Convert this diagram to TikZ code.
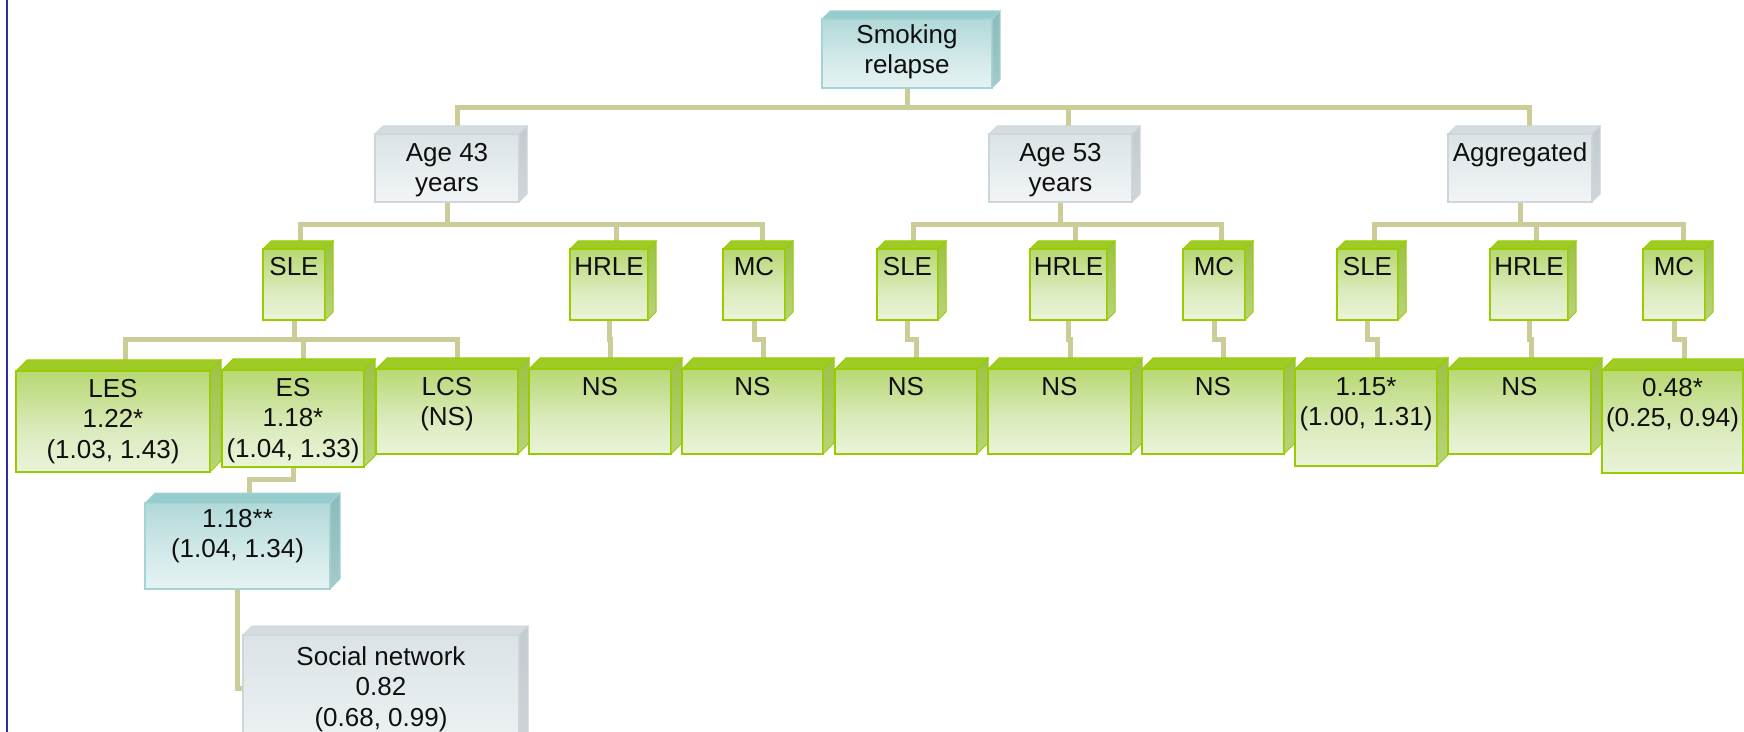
\documentclass[tikz,border=0pt]{standalone}
\usepackage{fontspec}
\setmainfont{Liberation Sans}
\usetikzlibrary{calc,backgrounds}

% palette
\definecolor{connc}{RGB}{204,204,153}
\definecolor{navy}{RGB}{45,45,165}
\definecolor{inkc}{RGB}{15,15,15}
% green boxes
\definecolor{gborder}{RGB}{153,204,0}
\definecolor{gtopc}{RGB}{158,204,36}
\definecolor{gfa}{RGB}{152,200,50}
\definecolor{gfb}{RGB}{220,235,190}
\definecolor{gfc}{RGB}{252,253,250}
\definecolor{gsa}{RGB}{138,186,40}
\definecolor{gsb}{RGB}{202,220,150}
% cyan boxes
\definecolor{cborder}{RGB}{165,212,212}
\definecolor{ctopc}{RGB}{150,204,204}
\definecolor{cfa}{RGB}{148,202,202}
\definecolor{cfb}{RGB}{212,234,234}
\definecolor{cfc}{RGB}{252,254,254}
\definecolor{csa}{RGB}{125,180,180}
\definecolor{csb}{RGB}{178,208,208}
% grey boxes
\definecolor{sborder}{RGB}{205,214,218}
\definecolor{stopc}{RGB}{212,220,224}
\definecolor{sfa}{RGB}{208,218,222}
\definecolor{sfb}{RGB}{232,238,240}
\definecolor{sfc}{RGB}{253,253,253}
\definecolor{ssa}{RGB}{186,198,203}
\definecolor{ssb}{RGB}{214,220,223}

\pgfdeclareverticalshading{gfront}{100bp}{color(0bp)=(gfc); color(45bp)=(gfb); color(100bp)=(gfa)}
\pgfdeclareverticalshading{gside}{100bp}{color(0bp)=(gsb); color(100bp)=(gsa)}
\pgfdeclareverticalshading{cfront}{100bp}{color(0bp)=(cfc); color(45bp)=(cfb); color(100bp)=(cfa)}
\pgfdeclareverticalshading{cside}{100bp}{color(0bp)=(csb); color(100bp)=(csa)}
\pgfdeclareverticalshading{sfront}{100bp}{color(0bp)=(sfc); color(45bp)=(sfb); color(100bp)=(sfa)}
\pgfdeclareverticalshading{sside}{100bp}{color(0bp)=(ssb); color(100bp)=(ssa)}

\tikzset{
  basebox/.style={inner sep=0pt, outer sep=0pt, anchor=north west, line width=0.75pt},
  gbox/.style={basebox, draw=gborder, shading=gfront},
  gtop/.style={fill=gtopc, draw=gborder, line width=0.5pt},
  gside/.style={shading=gside, draw=gborder, line width=0.5pt},
  cbox/.style={basebox, draw=cborder, shading=cfront},
  ctop/.style={fill=ctopc, draw=cborder, line width=0.5pt},
  cside/.style={shading=cside, draw=cborder, line width=0.5pt},
  sbox/.style={basebox, draw=sborder, shading=sfront},
  stop/.style={fill=stopc, draw=sborder, line width=0.5pt},
  sside/.style={shading=sside, draw=sborder, line width=0.5pt},
  txt/.style={anchor=north, align=center, inner sep=0pt, text=inkc,
              font=\fontsize{13}{15.25}\selectfont},
  conn/.style={draw=connc, line width=2.5pt},
  edgeline/.style={draw=navy, line width=0.8pt}
}

% first-line strut: fixes the top of every label 20 units above its first baseline
\newcommand\fstrut{\rule{0pt}{10pt}}

% #1 colour family, #2 name, #3 left, #4 top, #5 right, #6 bottom, #7 depth
\newcommand\cubebox[7]{%
  \node[#1box, minimum width={(#5-#3)*0.5pt}, minimum height={(#6-#4)*0.5pt}] (#2) at (#3,#4) {};
  \path[#1top] (#2.north west) -- ++(#7,-#7) -- ($(#2.north east)+(#7,-#7)$) -- (#2.north east) -- cycle;
  \path[#1side] (#2.north east) -- ++(#7,-#7) -- ($(#2.south east)+(#7,-#7)$) -- (#2.south east) -- cycle;
}

\begin{document}
\begin{tikzpicture}[x=0.5pt,y=-0.5pt]
\useasboundingbox (0,0) rectangle (1744,732);
\clip (0,0) rectangle (1744,732);

% root
\cubebox{c}{top}{822}{19}{992}{88}{8}
% periods
\cubebox{s}{age43}{375}{134}{519}{202}{8}
\cubebox{s}{age53}{989}{134}{1132}{202}{8}
\cubebox{s}{agg}{1448}{134}{1592}{202}{8}
% measures
\cubebox{g}{sle43}{263}{249}{325}{320}{8}
\cubebox{g}{hrle43}{570}{249}{648}{320}{8}
\cubebox{g}{mc43}{723}{249}{785}{320}{8}
\cubebox{g}{sle53}{877}{249}{938}{320}{8}
\cubebox{g}{hrle53}{1030}{249}{1107}{320}{8}
\cubebox{g}{mc53}{1183}{249}{1245}{320}{8}
\cubebox{g}{sleA}{1337}{249}{1398}{320}{8}
\cubebox{g}{hrleA}{1490}{249}{1568}{320}{8}
\cubebox{g}{mcA}{1643}{249}{1705}{320}{8}
% results
\cubebox{g}{les}{16}{371}{210}{472}{11}
\cubebox{g}{es}{222}{370}{364}{467}{11}
\cubebox{g}{lcs}{376}{369}{518}{454}{11}
\cubebox{g}{ns1}{529}{369}{671}{454}{11}
\cubebox{g}{ns2}{682}{369}{823}{454}{11}
\cubebox{g}{ns3}{835}{369}{977}{454}{11}
\cubebox{g}{ns4}{988}{369}{1131}{454}{11}
\cubebox{g}{ns5}{1142}{369}{1284}{454}{11}
\cubebox{g}{resA}{1295}{369}{1437}{466}{11}
\cubebox{g}{ns6}{1448}{369}{1591}{454}{11}
\cubebox{g}{resC}{1602}{370}{1743}{473}{11}
% mediation
\cubebox{c}{adj}{145}{503}{330}{589}{10}
\cubebox{s}{social}{243}{635}{519}{770}{9}

% labels
\node[txt] (top-t)    at ($(top.north)+(0,4)$)    {\fstrut Smoking\\relapse};
\node[txt] (age43-t)  at ($(age43.north)+(0,7)$)  {\fstrut Age 43\\years};
\node[txt] (age53-t)  at ($(age53.north)+(0,7)$)  {\fstrut Age 53\\years};
\node[txt] (agg-t)    at ($(agg.north)+(0,7)$)    {\fstrut Aggregated};
\node[txt] (sle43-t)  at ($(sle43.north)+(0,6)$)  {\fstrut SLE};
\node[txt] (hrle43-t) at ($(hrle43.north)+(0,6)$) {\fstrut HRLE};
\node[txt] (mc43-t)   at ($(mc43.north)+(0,6)$)   {\fstrut MC};
\node[txt] (sle53-t)  at ($(sle53.north)+(0,6)$)  {\fstrut SLE};
\node[txt] (hrle53-t) at ($(hrle53.north)+(0,6)$) {\fstrut HRLE};
\node[txt] (mc53-t)   at ($(mc53.north)+(0,6)$)   {\fstrut MC};
\node[txt] (sleA-t)   at ($(sleA.north)+(0,6)$)   {\fstrut SLE};
\node[txt] (hrleA-t)  at ($(hrleA.north)+(0,6)$)  {\fstrut HRLE};
\node[txt] (mcA-t)    at ($(mcA.north)+(0,6)$)    {\fstrut MC};
\node[txt] (les-t)    at ($(les.north)+(0,6)$)    {\fstrut LES\\1.22*\\(1.03, 1.43)};
\node[txt] (es-t)     at ($(es.north)+(0,6)$)     {\fstrut ES\\1.18*\\(1.04, 1.33)};
\node[txt] (lcs-t)    at ($(lcs.north)+(0,6)$)    {\fstrut LCS\\(NS)};
\node[txt] (ns1-t)    at ($(ns1.north)+(0,6)$)    {\fstrut NS};
\node[txt] (ns2-t)    at ($(ns2.north)+(0,6)$)    {\fstrut NS};
\node[txt] (ns3-t)    at ($(ns3.north)+(0,6)$)    {\fstrut NS};
\node[txt] (ns4-t)    at ($(ns4.north)+(0,6)$)    {\fstrut NS};
\node[txt] (ns5-t)    at ($(ns5.north)+(0,6)$)    {\fstrut NS};
\node[txt] (resA-t)   at ($(resA.north)+(0,6)$)   {\fstrut 1.15*\\(1.00, 1.31)};
\node[txt] (ns6-t)    at ($(ns6.north)+(0,6)$)    {\fstrut NS};
\node[txt] (resC-t)   at ($(resC.north)+(0,6)$)   {\fstrut 0.48*\\(0.25, 0.94)};
\node[txt] (adj-t)    at ($(adj.north)+(0,4)$)    {\fstrut 1.18**\\(1.04, 1.34)};
\node[txt] (social-t) at ($(social.north)+(0,10)$){\fstrut Social network\\0.82\\(0.68, 0.99)};

\begin{pgfonlayer}{background}
  \fill[white] (0,0) rectangle (1744,732);
  % root to periods
  \draw[conn] (top.south) -- ++(0,19.5) coordinate (bus0);
  \draw[conn] ($(age43.north)+(10,0)$) |- (bus0) -| ($(agg.north)+(9,0)$);
  \draw[conn] ($(age53.north)+(8,0)$) |- (bus0);
  % periods to measures
  \draw[conn] (age43.south) -- ++(0,23) coordinate (bus43);
  \draw[conn] ($(sle43.north)+(6,0)$) |- (bus43) -| ($(mc43.north)+(8,0)$);
  \draw[conn] ($(hrle43.north)+(7,0)$) |- (bus43);
  \draw[conn] (age53.south) -- ++(0,23) coordinate (bus53);
  \draw[conn] ($(sle53.north)+(6,0)$) |- (bus53) -| ($(mc53.north)+(7,0)$);
  \draw[conn] ($(hrle53.north)+(7,0)$) |- (bus53);
  \draw[conn] (agg.south) -- ++(0,23) coordinate (busA);
  \draw[conn] ($(sleA.north)+(7,0)$) |- (busA) -| ($(mcA.north)+(9,0)$);
  \draw[conn] ($(hrleA.north)+(7,0)$) |- (busA);
  % measures to results
  \draw[conn] (sle43.south) -- ++(0,20) coordinate (bus3);
  \draw[conn] ($(les.north)+(12,0)$) |- (bus3) -| ($(lcs.north)+(10,0)$);
  \draw[conn] ($(es.north)+(10.5,0)$) |- (bus3);
  \draw[conn] (hrle43.south) -- ++(0,20) -| ($(ns1.north)+(10.5,0)$);
  \draw[conn] (mc43.south) -- ++(0,20) -| ($(ns2.north)+(10.5,0)$);
  \draw[conn] (sle53.south) -- ++(0,20) -| ($(ns3.north)+(10.5,0)$);
  \draw[conn] (hrle53.south) -- ++(0,20) -| ($(ns4.north)+(10.5,0)$);
  \draw[conn] (mc53.south) -- ++(0,20) -| ($(ns5.north)+(10.5,0)$);
  \draw[conn] (sleA.south) -- ++(0,20) -| ($(resA.north)+(11.5,0)$);
  \draw[conn] (hrleA.south) -- ++(0,20) -| ($(ns6.north)+(11.5,0)$);
  \draw[conn] (mcA.south) -- ++(0,20) -| ($(resC.north)+(11.5,0)$);
  % mediation chain
  \draw[conn] (es.south) -- ++(0,12.5) -| ($(adj.north)+(12,0)$);
  \draw[conn] (adj.south) |- ($(social.north west)+(0,53)$);
\end{pgfonlayer}

% left margin rule
\draw[edgeline] (7,0) -- (7,732);
\end{tikzpicture}
\end{document}
